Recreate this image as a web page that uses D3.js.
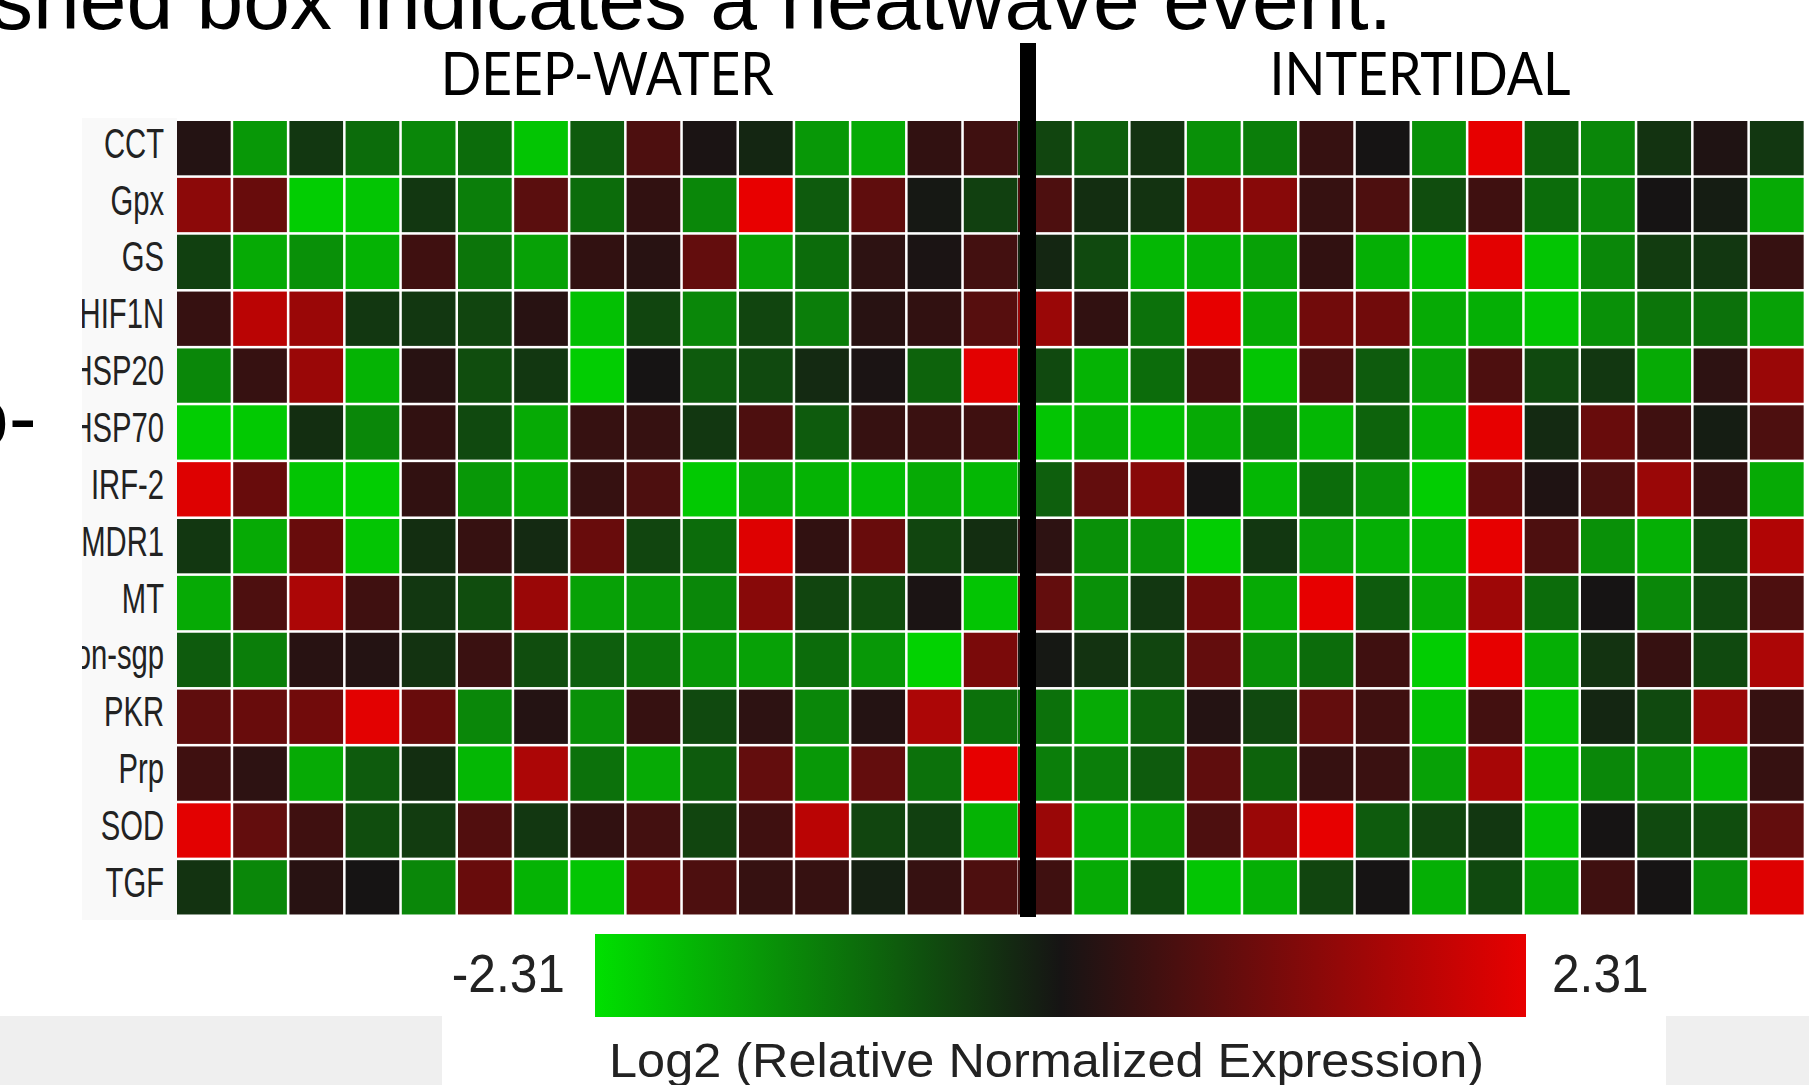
<!DOCTYPE html>
<html><head><meta charset="utf-8">
<script src="https://cdn.jsdelivr.net/npm/d3@7"></script>
<style>html,body{margin:0;padding:0;background:#fff;overflow:hidden}</style>
</head><body><svg id="c" width="1809" height="1085"></svg>
<script>
const genes = ["CCT","Gpx","GS","HIF1N","HSP20","HSP70","IRF-2","MDR1","MT","on-sgp","PKR","Prp","SOD","TGF"];
const panelTitles = ["DEEP-WATER","INTERTIDAL"];
const legendRange = [-2.31, 2.31];
const legendTitle = "Log2 (Relative Normalized Expression)";
const slideTitle = "shed box indicates a heatwave event.";
const slideFragment = "o-";

const deepWater = [
  [0.15,-1.5,-0.4,-1.0,-1.3,-1.0,-2.0,-0.8,0.6,0.05,-0.2,-1.5,-1.7,0.3,0.45],
  [1.3,0.9,-2.1,-2.0,-0.4,-1.2,0.75,-1.0,0.3,-1.3,2.31,-0.8,0.8,-0.05,-0.5],
  [-0.5,-1.7,-1.4,-1.8,0.45,-1.1,-1.6,0.3,0.2,0.85,-1.6,-1.0,0.25,0.05,0.5],
  [0.35,1.8,1.45,-0.4,-0.4,-0.55,0.2,-1.95,-0.55,-1.3,-0.55,-1.2,0.2,0.3,0.7],
  [-1.3,0.35,1.45,-1.8,0.2,-0.65,-0.4,-2.1,0.0,-0.8,-0.6,-0.25,0.05,-0.9,2.25],
  [-2.1,-2.05,-0.3,-1.3,0.3,-0.6,-1.7,0.35,0.35,-0.4,0.6,-0.8,0.35,0.4,0.45],
  [2.2,0.9,-2.0,-2.1,0.3,-1.5,-1.7,0.35,0.6,-2.05,-1.7,-1.8,-1.9,-1.7,-1.85],
  [-0.4,-1.7,0.9,-2.0,-0.3,0.35,-0.25,0.9,-0.55,-1.0,2.2,0.3,0.9,-0.55,-0.3],
  [-1.7,0.6,1.65,0.45,-0.4,-0.65,1.45,-1.6,-1.5,-1.3,1.25,-0.55,-0.65,0.05,-2.0],
  [-0.8,-1.2,0.2,0.15,-0.35,0.4,-0.65,-0.85,-1.1,-1.5,-1.6,-1.0,-1.5,-2.15,1.1],
  [0.8,0.9,1.0,2.25,0.9,-1.3,0.15,-1.4,0.35,-0.6,0.25,-1.3,0.15,1.65,-1.05],
  [0.45,0.25,-1.7,-0.8,-0.3,-1.85,1.65,-1.05,-1.7,-0.8,0.85,-1.5,0.85,-1.05,2.3],
  [2.25,0.85,0.45,-0.65,-0.45,0.65,-0.4,0.3,0.5,-0.55,0.45,1.8,-0.55,-0.5,-1.8],
  [-0.35,-1.3,0.2,0.0,-1.3,0.9,-1.8,-2.0,0.9,0.6,0.35,0.35,-0.15,0.35,0.6]
];

const intertidal = [
  [-0.55,-0.85,-0.35,-1.4,-1.2,0.35,0.0,-1.4,2.3,-0.9,-1.3,-0.35,0.1,-0.4],
  [0.6,-0.3,-0.35,1.25,1.25,0.35,0.6,-0.65,0.45,-1.0,-1.3,0.0,-0.1,-1.7],
  [-0.2,-0.6,-1.85,-1.75,-1.6,0.3,-1.75,-1.95,2.25,-2.0,-1.3,-0.45,-0.4,0.35],
  [1.45,0.3,-1.05,2.3,-1.7,1.0,1.0,-1.7,-1.75,-2.0,-1.4,-1.1,-1.05,-1.6],
  [-0.6,-1.8,-1.0,0.5,-2.0,0.6,-0.8,-1.6,0.6,-0.6,-0.4,-1.7,0.25,1.45],
  [-2.0,-1.8,-1.95,-1.7,-1.3,-1.85,-0.9,-1.8,2.3,-0.25,0.9,0.45,-0.1,0.6],
  [-0.85,0.85,1.25,0.0,-1.85,-1.0,-1.4,-2.1,0.8,0.1,0.6,1.45,0.35,-1.7],
  [0.25,-1.4,-1.4,-2.1,-0.4,-1.6,-1.75,-1.85,2.3,0.6,-1.4,-1.75,-0.6,1.7],
  [0.85,-1.4,-0.4,1.0,-1.7,2.3,-0.8,-1.7,1.5,-1.0,0.0,-1.3,-0.6,0.6],
  [-0.05,-0.35,-0.55,0.85,-1.4,-1.0,0.45,-2.1,2.3,-1.75,-0.35,0.35,-0.6,1.65],
  [-1.05,-1.7,-0.9,0.15,-0.6,0.85,0.45,-1.95,0.5,-2.0,-0.2,-0.6,1.45,0.35],
  [-1.2,-1.2,-0.8,0.8,-0.9,0.35,0.4,-1.6,1.6,-2.0,-1.3,-1.4,-1.85,0.35],
  [1.45,-1.75,-1.7,0.6,1.45,2.3,-0.8,-0.55,-0.4,-2.0,0.0,-0.6,-0.65,0.85],
  [0.45,-1.7,-0.6,-2.0,-1.75,-0.55,0.0,-1.75,-0.6,-1.75,0.45,0.0,-1.4,2.2]
];

const svg = d3.select("#c");
const color = d3.scaleLinear().domain([legendRange[0], 0, legendRange[1]])
  .range(["#00e000", "#161414", "#e80000"]).clamp(true);

// slide background fragments
svg.append("rect").attr("x",0).attr("y",1016).attr("width",442).attr("height",69).attr("fill","#efefef");
svg.append("rect").attr("x",1666).attr("y",1016).attr("width",143).attr("height",69).attr("fill","#efefef");

svg.append("text").attr("x",1392).attr("y",29).attr("text-anchor","end")
  .attr("font-family","'Liberation Sans', Arial, sans-serif").attr("font-size",84).attr("fill","#000")
  .text(slideTitle);
svg.append("text").attr("x",-38).attr("y",446)
  .attr("font-family","'Liberation Sans', Arial, sans-serif").attr("font-size",84).attr("fill","#000")
  .text(slideFragment);

// label panel
svg.append("rect").attr("x",82).attr("y",118).attr("width",95).attr("height",802).attr("fill","#f9f9f9");

const rowStep = 56.86, pad = 0.045;
const y = d3.scaleBand().domain(genes).range([121, 121 + rowStep*(genes.length - pad)]).paddingInner(pad);
const xDeep = d3.scaleBand().domain(d3.range(deepWater[0].length))
  .range([177, 177 + 56.2*(deepWater[0].length - pad)]).paddingInner(pad);
const xInter = d3.scaleBand().domain(d3.range(intertidal[0].length))
  .range([1018, 1018 + 56.3*(intertidal[0].length - pad)]).paddingInner(pad);

function drawPanel(data, x, cls) {
  const cells = [];
  data.forEach((row, r) => row.forEach((v, c) => cells.push({gene: genes[r], col: c, v})));
  svg.append("g").attr("class", cls).selectAll("rect").data(cells).join("rect")
    .attr("x", d => x(d.col)).attr("y", d => y(d.gene))
    .attr("width", x.bandwidth()).attr("height", y.bandwidth())
    .attr("fill", d => color(d.v));
}
drawPanel(deepWater, xDeep, "deep");
drawPanel(intertidal, xInter, "inter");

// divider
svg.append("rect").attr("x",1020).attr("y",43).attr("width",16).attr("height",874).attr("fill","#000");

// panel headings
const headX = [ (xDeep.range()[0] + xDeep.range()[1]) / 2 + 10, 1420 ];
const headW = [333, 301];
panelTitles.forEach((t, i) => {
  svg.append("text").attr("x", headX[i]).attr("y", 95).attr("text-anchor","middle")
    .attr("font-family","Lato, 'Open Sans', sans-serif").attr("font-size",60).attr("fill","#000")
    .attr("textLength", headW[i]).attr("lengthAdjust","spacingAndGlyphs").text(t);
});

// row labels (clipped)
const defs = svg.append("defs");
defs.append("clipPath").attr("id","lblclip").append("rect").attr("x",82).attr("y",100).attr("width",100).attr("height",840);
const lg = svg.append("g").attr("clip-path","url(#lblclip)");
lg.selectAll("g").data(genes).join("g")
  .attr("transform", d => `translate(164,${y(d) + y.bandwidth()/2 + 9.5}) scale(0.68,1)`)
  .append("text").attr("text-anchor","end")
  .attr("font-family","'Liberation Sans', Arial, sans-serif").attr("font-size",43).attr("fill","#222")
  .text(d => d);

// colour bar legend
const legendX = d3.scaleLinear().domain(legendRange).range([595, 1526]);
const grad = defs.append("linearGradient").attr("id","cbar").attr("x1","0%").attr("x2","100%");
d3.range(0, 1.0001, 0.05).forEach(t => {
  const v = legendRange[0] + t*(legendRange[1]-legendRange[0]);
  grad.append("stop").attr("offset", (t*100)+"%").attr("stop-color", color(v));
});
svg.append("rect").attr("x", legendX(legendRange[0])).attr("y", 934)
  .attr("width", legendX(legendRange[1]) - legendX(legendRange[0])).attr("height", 83)
  .attr("fill","url(#cbar)");
svg.append("g").attr("transform", `translate(${legendX(legendRange[0]) - 30},992) scale(0.92,1)`)
  .append("text").attr("text-anchor","end")
  .attr("font-family","'Liberation Sans', Arial, sans-serif").attr("font-size",54).attr("fill","#222")
  .text(legendRange[0].toFixed(2));
svg.append("g").attr("transform", `translate(${legendX(legendRange[1]) + 26},992) scale(0.92,1)`)
  .append("text").attr("text-anchor","start")
  .attr("font-family","'Liberation Sans', Arial, sans-serif").attr("font-size",54).attr("fill","#222")
  .text(legendRange[1].toFixed(2));
svg.append("text").attr("x", 609).attr("y", 1077)
  .attr("font-family","'Liberation Sans', Arial, sans-serif").attr("font-size",48).attr("fill","#222")
  .attr("textLength", 875).attr("lengthAdjust","spacingAndGlyphs")
  .text(legendTitle);
</script></body></html>
